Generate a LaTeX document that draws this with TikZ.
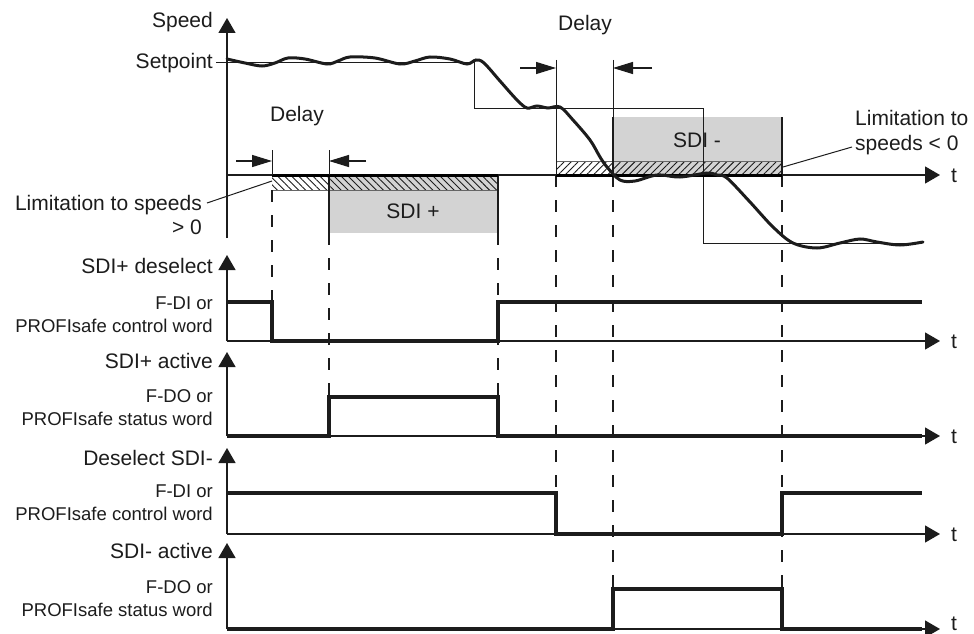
\documentclass[tikz,border=0pt]{standalone}
\usepackage{fontspec}
\setmainfont{Liberation Sans}
\usepackage{tikz}
\usetikzlibrary{arrows.meta,patterns.meta}
\definecolor{ink}{RGB}{28,28,28}
\definecolor{boxgray}{RGB}{211,211,211}

\begin{document}
\begin{tikzpicture}[x=1pt,y=-1pt,
  every node/.style={font=\fontsize{21}{25}\selectfont,inner sep=0pt,text=ink},
  small/.style={font=\fontsize{18.5}{23}\selectfont,align=right},
  axis/.style={line width=1.3pt,ink,-{Triangle[length=15pt,width=17pt]}},
  sig/.style={line width=3.2pt,ink,line join=miter},
  hair/.style={line width=1pt,ink},
  guide/.style={line width=1.1pt,ink,dash pattern=on 12pt off 13pt},
  darrow/.style={line width=1.3pt,ink,-{Triangle[length=20pt,width=12pt]}},
  hatchnw/.style={pattern={Lines[angle=-45,distance=5pt,line width=0.9pt]},pattern color=ink},
  hatchne/.style={pattern={Lines[angle=45,distance=5pt,line width=0.9pt]},pattern color=ink},
  edge/.style={line width=1.5pt,ink}]
  \useasboundingbox (0,0) rectangle (974,634);

  % SDI+ window and limitation band
  \fill[boxgray] (329,175) rectangle (498,233);
  \fill[hatchnw] (272,175) rectangle (498,190);
  \draw[hair,black!60] (272,190) -- (498,190);
  \draw[edge] (329,175) -- (329,233);
  \draw[edge] (498,175) -- (498,233);
  % SDI- window and limitation band
  \fill[boxgray] (613,117) rectangle (782,175);
  \fill[hatchne] (556,161) rectangle (782,175);
  \draw[hair,black!60] (556,161) -- (782,161);
  \draw[edge] (613,117) -- (613,175);
  \draw[edge] (782,117) -- (782,175);
  \node (sdip) at (413,211) {SDI +};
  \node (sdim) at (697,140) {SDI -};

  % dashed time marks
  \draw[guide] (272,190) -- (272,302);
  \draw[guide] (329,233) -- (329,397);
  \draw[guide] (498,233) -- (498,397);
  \draw[guide] (556,175) -- (556,493);
  \draw[guide] (613,175) -- (613,589);
  \draw[guide] (782,175) -- (782,589);

  % speed diagram
  \draw[axis] (227,238) -- (227,18);
  \draw[axis] (227,175) -- (940,175);
  \node[anchor=base west] (tspeed) at (951,182) {t};
  \node[anchor=base east] (speedlbl) at (213,28) {Speed};
  \node[anchor=base east] (setptlbl) at (213,68) {Setpoint};
  \draw[hair] ([xshift=3pt]setptlbl.east) -| (474,108) -- (703,108) -- (703,243) -- (922,243);
  \draw[line width=3pt] (272,175) -- (498,175);
  \draw[line width=3pt] (556,175) -- (782,175);
  \draw[line width=3pt,ink,line cap=round] plot[smooth,tension=0.55] coordinates {
    (227,59) (245,63) (262,66) (275,63) (288,58) (305,59) (327,64) (338,61)
    (350,57) (375,58) (400,64) (415,61) (430,57) (450,59) (467,64) (476,60)
    (484,63) (500,81) (517,100) (527,108) (537,106) (548,108) (560,107)
    (573,120) (590,140) (600,157) (607,167) (620,180) (635,181) (657,175)
    (680,177) (707,173) (717,175) (727,178) (750,202) (773,227) (793,243)
    (817,248) (840,243) (860,239) (877,242) (900,245) (923,242)};

  % delay marks
  \node (delayA) at (297,116) {Delay};
  \draw[hair] (272,150) -- (272,175);
  \draw[hair] (329,150) -- (329,175);
  \draw[darrow] (236,161) -- (272,161);
  \draw[darrow] (366,161) -- (329,161);
  \node (delayB) at (585,25) {Delay};
  \draw[hair] (556,60) -- (556,175);
  \draw[hair] (613,60) -- (613,117);
  \draw[darrow] (520,68) -- (556,68);
  \draw[darrow] (652,68) -- (613,68);

  % limitation labels
  \node[anchor=north east,align=right,font=\fontsize{21}{24}\selectfont] (limpos) at (202,195)
    {Limitation to speeds\\> 0};
  \coordinate (limposend) at (272,181);
  \draw[hair] ([xshift=5pt,yshift=-8pt]limpos.north east) -- (limposend);
  \node[anchor=north west,align=left] (limneg) at (855,110)
    {Limitation to\\speeds < 0};
  \coordinate (limnegend) at (783,167);
  \draw[hair] ([xshift=-3pt,yshift=-37pt]limneg.north west) -- (limnegend);

  % SDI+ deselect
  \draw[axis] (227,341) -- (227,255);
  \draw[axis] (227,341) -- (940,341);
  \node[anchor=base west] (tdesp) at (951,348) {t};
  \node[anchor=base east] (desplbl) at (213,273) {SDI+ deselect};
  \node[small,anchor=north east] (despsrc) at (213,297) {F-DI or\\PROFIsafe control word};
  \draw[sig] (227,302) -- (272,302) -- (272,341) -- (498,341) -- (498,302) -- (922,302);

  % SDI+ active
  \draw[axis] (227,436) -- (227,352);
  \draw[axis] (227,436) -- (940,436);
  \node[anchor=base west] (tactp) at (951,443) {t};
  \node[anchor=base east] (actplbl) at (213,368) {SDI+ active};
  \node[small,anchor=north east] (actpsrc) at (213,389) {F-DO or\\PROFIsafe status word};
  \draw[sig] (227,436) -- (329,436) -- (329,397) -- (498,397) -- (498,436) -- (922,436);

  % Deselect SDI-
  \draw[axis] (227,534) -- (227,448);
  \draw[axis] (227,534) -- (940,534);
  \node[anchor=base west] (tdesm) at (951,541) {t};
  \node[anchor=base east] (desmlbl) at (213,465) {Deselect SDI-};
  \node[small,anchor=north east] (desmsrc) at (213,485) {F-DI or\\PROFIsafe control word};
  \draw[sig] (227,493) -- (556,493) -- (556,534) -- (782,534) -- (782,493) -- (922,493);

  % SDI- active
  \draw[axis] (227,629) -- (227,543);
  \draw[axis] (227,629) -- (940,629);
  \node[anchor=base west] (tactm) at (951,630) {t};
  \node[anchor=base east] (actmlbl) at (213,558) {SDI- active};
  \node[small,anchor=north east] (actmsrc) at (213,580) {F-DO or\\PROFIsafe status word};
  \draw[sig] (227,629) -- (613,629) -- (613,589) -- (782,589) -- (782,629) -- (922,629);
\end{tikzpicture}
\end{document}
